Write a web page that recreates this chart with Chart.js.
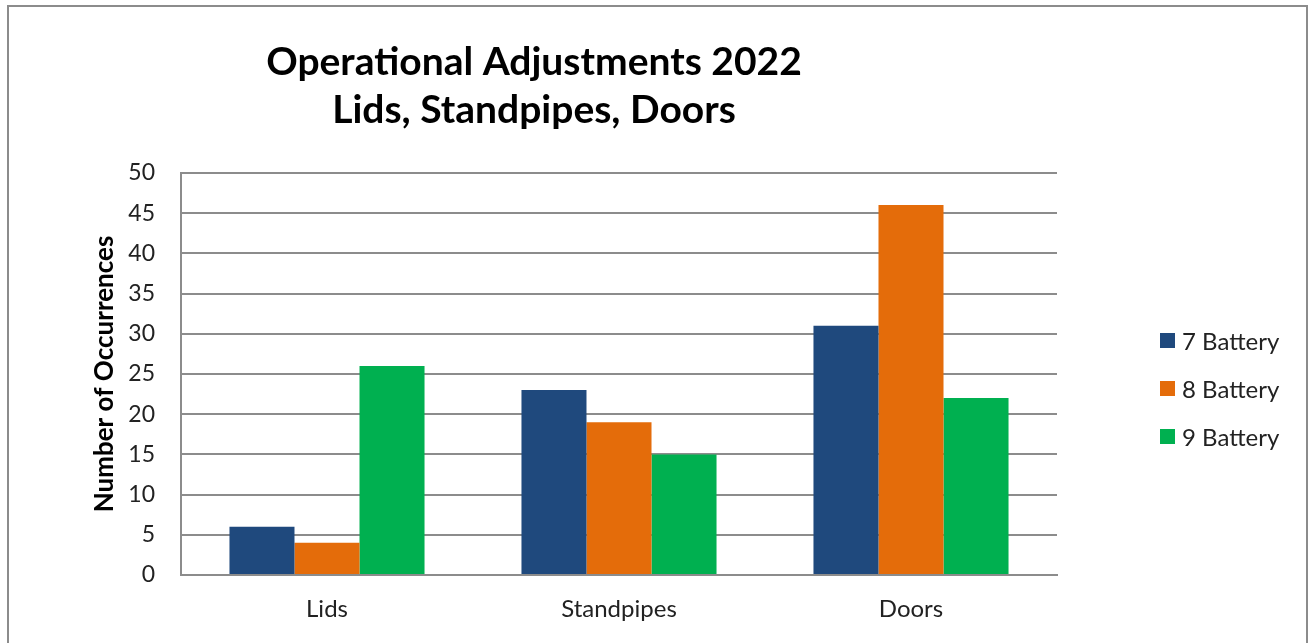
<!DOCTYPE html>
<html lang="en">
<head>
    <meta charset="UTF-8">
    <title>Operational Adjustments 2022</title>
    <script src="https://cdn.jsdelivr.net/npm/chart.js@4.4.0/dist/chart.umd.min.js"></script>
    <style>
        body { margin: 0; background: #fff; overflow: hidden; font-family: Lato, sans-serif; }
        .frame { position: absolute; left: 7px; top: 5px; width: 1297px; height: 700px; border: 2px solid #8c8c8c; }
        #myChart { position: absolute; left: 0; top: 0; }
        #legend { position: absolute; left: 1160px; top: 324px; margin: 0; padding: 0; list-style: none; }
        #legend li { display: flex; align-items: center; height: 32px; margin-bottom: 16px; font-size: 24px; color: #222; }
        #legend .box { width: 15px; height: 15px; margin-right: 7px; }
    </style>
</head>
<body>
    <div class="frame"></div>
    <canvas id="myChart" width="1308" height="643"></canvas>
    <ul id="legend"></ul>

    <script>
        // datos
        let categorias = ['Lids', 'Standpipes', 'Doors']
        let bateria7 = [6, 23, 31]
        let bateria8 = [4, 19, 46]
        let bateria9 = [26, 15, 22]
        let series = ['7 Battery', '8 Battery', '9 Battery']
        let colores = ['#1F497D', '#E46C0A', '#00B050']
        let titulo = ['Operational Adjustments 2022', 'Lids, Standpipes, Doors']

        let gris = '#8c8c8c'
        let fuente = 'Lato'

        // leyenda en html a la derecha
        const leyendaHtml = {
            id: 'leyendaHtml',
            afterUpdate(chart) {
                let ul = document.getElementById('legend')
                ul.innerHTML = ''
                chart.options.plugins.legend.labels.generateLabels(chart).forEach(item => {
                    let li = document.createElement('li')
                    let box = document.createElement('span')
                    box.className = 'box'
                    box.style.background = item.fillStyle
                    li.appendChild(box)
                    li.appendChild(document.createTextNode(item.text))
                    ul.appendChild(li)
                })
            }
        }

        var ctx = document.getElementById('myChart').getContext('2d')

        var myChart = new Chart(ctx, {
            type: 'bar',
            data: {
                labels: categorias,
                datasets: [
                    { label: series[0], data: bateria7, backgroundColor: colores[0] },
                    { label: series[1], data: bateria8, backgroundColor: colores[1] },
                    { label: series[2], data: bateria9, backgroundColor: colores[2] }
                ]
            },
            options: {
                responsive: false,
                animation: false,
                devicePixelRatio: 1,
                layout: { padding: { left: 11, right: 251, top: 0, bottom: 0 } },
                datasets: { bar: { categoryPercentage: 0.668, barPercentage: 1 } },
                plugins: {
                    legend: { display: false },
                    tooltip: { enabled: false },
                    title: {
                        display: true,
                        text: titulo,
                        color: '#000',
                        font: { family: fuente, size: 39, weight: 'bold', lineHeight: 1.23 },
                        padding: { top: 38, bottom: 39 }
                    }
                },
                scales: {
                    x: {
                        grid: { display: false, drawTicks: false },
                        border: { color: gris, width: 2 },
                        ticks: { color: '#222', padding: 20, font: { family: fuente, size: 24 } },
                        afterFit: (scale) => { scale.height = 68 }
                    },
                    y: {
                        min: 0,
                        max: 50,
                        ticks: { stepSize: 5, color: '#222', padding: 26, font: { family: fuente, size: 23 } },
                        grid: { color: gris, lineWidth: 2, drawTicks: false },
                        border: { color: gris, width: 2 },
                        title: {
                            display: true,
                            text: 'Number of Occurrences',
                            color: '#000',
                            font: { family: fuente, size: 26, weight: 'bold' },
                            padding: { top: 78, bottom: 0 }
                        },
                        afterFit: (scale) => { scale.width = 170 }
                    }
                }
            },
            plugins: [leyendaHtml]
        })
    </script>
</body>
</html>
